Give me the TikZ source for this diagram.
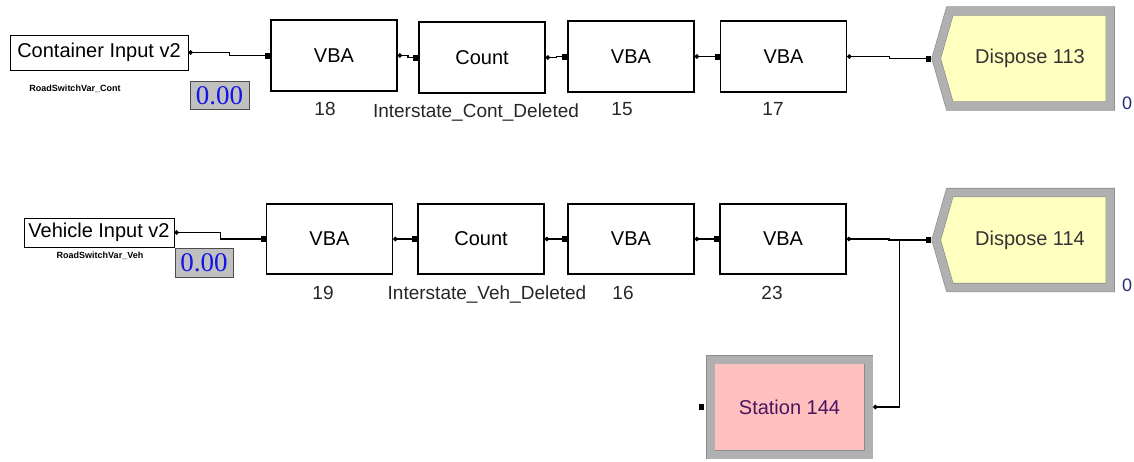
\documentclass[tikz,border=0pt]{standalone}
\usepackage{fontspec}
\setmainfont{Liberation Sans}
\newfontfamily\valfont{Liberation Serif}
\usetikzlibrary{positioning,arrows.meta,shapes.symbols,calc}
\definecolor{dispfill}{RGB}{255,255,192}
\definecolor{stfill}{RGB}{255,192,192}
\definecolor{bevelgray}{RGB}{176,176,176}
\definecolor{valgray}{RGB}{192,192,192}
\definecolor{valblue}{RGB}{20,20,230}
\definecolor{sttext}{RGB}{75,20,95}
\definecolor{cntblue}{RGB}{40,40,120}

\begin{document}
\begin{tikzpicture}[
  x=1pt, y=-1pt,
  big/.style={font=\fontsize{20}{24}\selectfont},
  module/.style={draw, line width=1.1pt, minimum width=126pt, inner sep=0pt, big},
  srcbox/.style={draw, line width=0.9pt, inner sep=0pt, big},
  tag/.style={inner sep=0pt, font=\fontsize{19}{22}\selectfont, text=black!85},
  var/.style={inner sep=0pt, font=\fontsize{9}{10}\selectfont\bfseries},
  value/.style={draw=black!70, fill=valgray, inner sep=0pt, text=valblue, font=\valfont\fontsize{27}{30}\selectfont},
  bevel/.style={draw=black!45, line width=0.6pt, double=bevelgray, double distance=8pt, outer sep=4.6pt, inner sep=0pt, big},
  dispose/.style={bevel, signal, signal to=west, signal pointer angle=148, fill=dispfill, text=black!80, minimum width=174pt, minimum height=95pt},
  station/.style={bevel, fill=stfill, text=sttext, minimum width=158pt, minimum height=95pt},
  counter/.style={inner sep=0pt, text=cntblue, font=\fontsize{18}{20}\selectfont},
  inport/.style={fill, inner sep=0pt, minimum width=5pt, minimum height=6pt},
  link/.style={line width=1.2pt, {Circle[length=4.5pt]}-{Square[length=5pt,width=6pt]}}
]
\useasboundingbox (0,0) rectangle (1134,461);

% container line
\node[srcbox, minimum width=178pt, minimum height=35pt] (cin) at (99,52.5) {Container Input v2};
\node[var] (cvar) at (75,89) {RoadSwitchVar\_Cont};
\node[value, minimum width=59pt, minimum height=28pt] (cval) at (219.5,95.5) {0.00};
\node[module, minimum height=71pt] (vba18) at (334,55.5) {VBA};
\node[module, minimum height=71pt] (cnt1) at (482,57.5) {Count};
\node[module, minimum height=71pt] (vba15) at (631,56.5) {VBA};
\node[module, minimum height=71pt] (vba17) at (783.5,56.5) {VBA};
\node[dispose] (d113) at (1030,58.5) {Dispose 113};
\node[tag, below=10pt of vba18, xshift=-9pt] (l18) {18};
\node[tag, below=10pt of cnt1, xshift=-6pt] (lcnt1) {Interstate\_Cont\_Deleted};
\node[tag, below=10pt of vba15, xshift=-9pt] (l15) {15};
\node[tag, below=10pt of vba17, xshift=-10.5pt] (l17) {17};
\node[counter] (c113) at (1127,103) {0};

% vehicle line
\node[srcbox, minimum width=150pt, minimum height=29pt] (vin) at (99,232.5) {Vehicle Input v2};
\node[var] (vvar) at (100,256) {RoadSwitchVar\_Veh};
\node[value, minimum width=58pt, minimum height=29pt] (vval) at (204,262.5) {0.00};
\node[module, minimum height=70pt] (vba19) at (329.5,239) {VBA};
\node[module, minimum height=70pt] (cnt2) at (481,239) {Count};
\node[module, minimum height=70pt] (vba16) at (631,239) {VBA};
\node[module, minimum height=70pt] (vba23) at (783,239) {VBA};
\node[dispose] (d114) at (1030,240) {Dispose 114};
\node[tag, below=11pt of vba19, xshift=-6.5pt] (l19) {19};
\node[tag, below=11pt of cnt2, xshift=6pt] (lcnt2) {Interstate\_Veh\_Deleted};
\node[tag, below=11pt of vba16, xshift=-8pt] (l16) {16};
\node[tag, below=11pt of vba23, xshift=-11pt] (l23) {23};
\node[counter] (c114) at (1127,285) {0};

\node[station] (st144) at (789.5,407) {Station 144};
\node[inport, left=2pt of st144] (st144in) {};

\draw[link] (cin.east) -| ($(cin.east)!.5!(vba18.west)$) |- (vba18.west);
\draw[link] (vba18.east) -| ($(vba18.east)!.5!(cnt1.west)$) |- (cnt1.west);
\draw[link] (cnt1.east) -| ($(cnt1.east)!.5!(vba15.west)$) |- (vba15.west);
\draw[link] (vba15.east) -| ($(vba15.east)!.5!(vba17.west)$) |- (vba17.west);
\draw[link] (vba17.east) -| ($(vba17.east)!.5!(d113.west)$) |- (d113.west);
\draw[link] (vin.east) -| ($(vin.east)!.5!(vba19.west)$) |- (vba19.west);
\draw[link] (vba19.east) -| ($(vba19.east)!.5!(cnt2.west)$) |- (cnt2.west);
\draw[link] (cnt2.east) -| ($(cnt2.east)!.5!(vba16.west)$) |- (vba16.west);
\draw[link] (vba16.east) -| ($(vba16.east)!.5!(vba23.west)$) |- (vba23.west);
\draw[link] (vba23.east) -| ($(vba23.east)!.5!(d114.west)$) |- (d114.west);
\draw[link] (st144.east) -- ++(26,0) |- (d114.west);
\end{tikzpicture}
\end{document}
